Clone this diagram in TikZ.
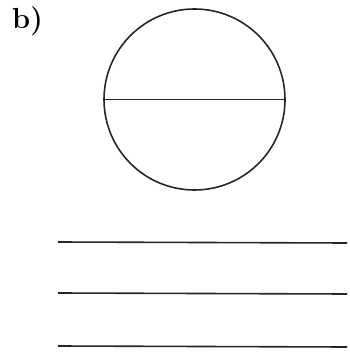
\documentclass[tikz,border=0pt]{standalone}
\usepackage{fontspec}
\usepackage{tikz}
\tikzset{
 ln/.style={line width=1.6pt,black!85},
 cx/.style={circle,draw,line width=1.6pt,black!85,inner sep=0pt,minimum size=181pt},
 lbl/.style={font=\fontsize{29}{33}\selectfont\bfseries,inner sep=0pt,anchor=base west}}

\begin{document}
\begin{tikzpicture}[x=1pt,y=-1pt]
 \useasboundingbox (0,0) rectangle (349,352);
 \node[lbl] (tag) at (12,29) {b)};
 \node[cx] (disc) at (194.5,99.5) {};
 \draw[ln] (disc.west)--(disc.east);
 \coordinate (a1) at (58,242); \coordinate (b1) at (347,243);
 \coordinate (a2) at (58,293); \coordinate (b2) at (347,294);
 \coordinate (a3) at (58,346); \coordinate (b3) at (347,347);
 \draw[ln] (a1)--(b1) (a2)--(b2) (a3)--(b3);
\end{tikzpicture}
\end{document}
